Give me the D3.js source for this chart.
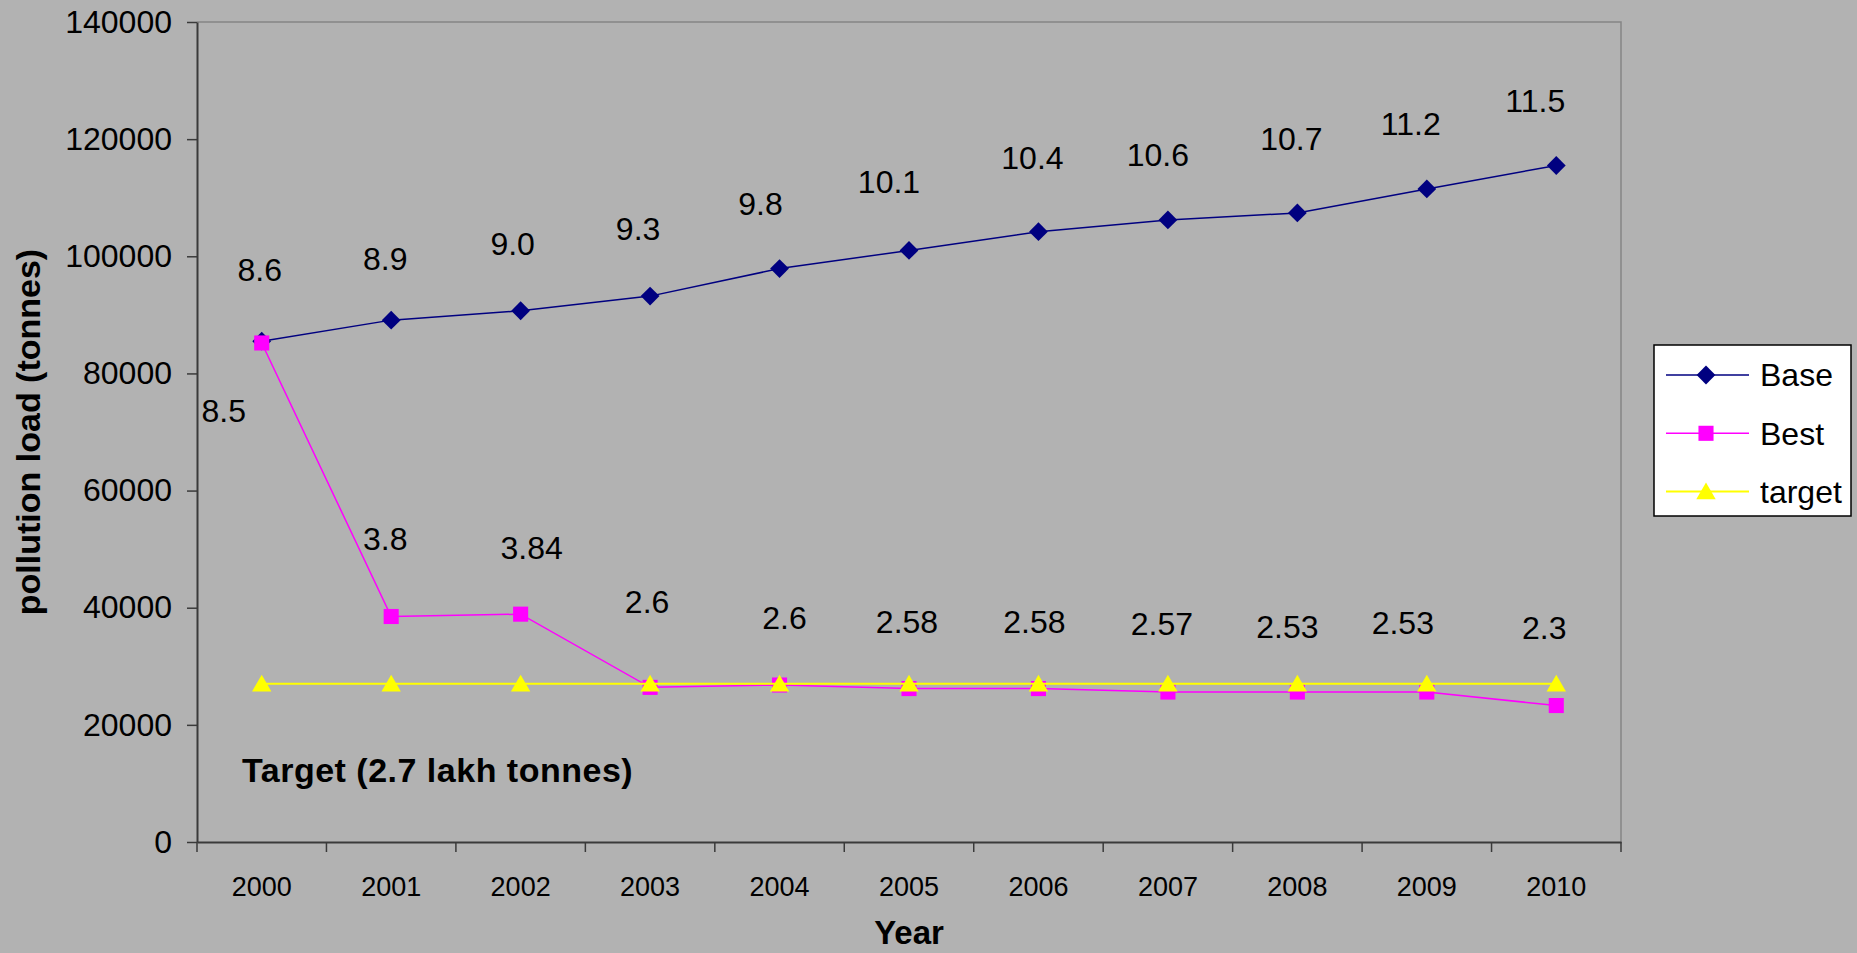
<!DOCTYPE html>
<html>
<head>
<meta charset="utf-8">
<script src="https://cdn.jsdelivr.net/npm/d3@7"></script>
<style>
  html, body { margin: 0; padding: 0; background: #b2b2b2; }
  svg { display: block; font-family: "Liberation Sans", Arial, sans-serif; }
</style>
</head>
<body>
<div id="chart"></div>
<script>
// ---- data ----
const years = ["2000", "2001", "2002", "2003", "2004", "2005", "2006", "2007", "2008", "2009", "2010"];
const baseValues = [85500, 89100, 90700, 93200, 97900, 101000, 104200, 106200, 107400, 111500, 115500];
const bestValues = [85200, 38500, 38900, 26400, 26800, 26200, 26200, 25600, 25600, 25600, 23300];
const targetValues = [27000, 27000, 27000, 27000, 27000, 27000, 27000, 27000, 27000, 27000, 27000];
const baseLabels = ["8.6", "8.9", "9.0", "9.3", "9.8", "10.1", "10.4", "10.6", "10.7", "11.2", "11.5"];
const bestLabels = ["8.5", "3.8", "3.84", "2.6", "2.6", "2.58", "2.58", "2.57", "2.53", "2.53", "2.3"];
const yTicks = [0, 20000, 40000, 60000, 80000, 100000, 120000, 140000];

// label nudges (px) relative to their point, as placed by hand in the original
const baseNudge = [[-2, -60], [-6, -50], [-8, -56], [-12, -56], [-19, -54], [-20, -57],
                   [-6, -63], [-10, -54], [-6, -63], [-16, -54], [-21, -54]];
const bestNudge = [[-38, 79], [-6, -67], [11, -55], [-3, -74], [5, -56], [-2, -56],
                   [-4, -56], [-6, -57], [-10, -54], [-24, -58], [-12, -67]];

const W = 1857, H = 953;
const plot = { left: 197, top: 22, right: 1621, bottom: 842 };

const svg = d3.select("#chart").append("svg")
    .attr("width", W)
    .attr("height", H);

svg.append("rect").attr("width", W).attr("height", H).attr("fill", "#b2b2b2");

const x = d3.scaleBand().domain(years).range([plot.left, plot.right]).padding(0);
const y = d3.scaleLinear().domain([0, 140000]).range([plot.bottom, plot.top]);
const cx = d => x(d) + x.bandwidth() / 2;

// plot frame: light top/right border
svg.append("path")
    .attr("d", `M${plot.left},${plot.top}H${plot.right}V${plot.bottom}`)
    .attr("fill", "none")
    .attr("stroke", "#858585")
    .attr("stroke-width", 1.5);

// ---- axes ----
const yAxis = svg.append("g")
    .attr("transform", `translate(${plot.left},0)`)
    .call(d3.axisLeft(y).tickValues(yTicks).tickFormat(d3.format("d")).tickSize(10).tickPadding(15).tickSizeOuter(0));
yAxis.select(".domain").attr("stroke", "#3a3a3a").attr("stroke-width", 2);
yAxis.selectAll(".tick line").attr("stroke", "#3a3a3a").attr("stroke-width", 1.5);
yAxis.selectAll("text").attr("font-size", 32).attr("fill", "#000")
    .attr("font-family", "'Liberation Sans', Arial, sans-serif");

const xAxis = svg.append("g")
    .attr("transform", `translate(0,${plot.bottom})`)
    .call(d3.axisBottom(x).tickSize(0).tickPadding(35).tickSizeOuter(0));
xAxis.select(".domain").attr("stroke", "#3a3a3a").attr("stroke-width", 2);
xAxis.selectAll("text").attr("font-size", 27).attr("fill", "#000")
    .attr("font-family", "'Liberation Sans', Arial, sans-serif");

// category boundary ticks
const bounds = years.map(d => x(d)).concat([x.range()[1]]);
xAxis.selectAll(".bound")
    .data(bounds)
    .join("line")
    .attr("class", "bound")
    .attr("x1", d => d).attr("x2", d => d)
    .attr("y1", 0).attr("y2", 10)
    .attr("stroke", "#3a3a3a")
    .attr("stroke-width", 1.5);

// axis titles
svg.append("text")
    .attr("transform", `translate(40,${(plot.top + plot.bottom) / 2}) rotate(-90)`)
    .attr("text-anchor", "middle")
    .attr("font-size", 34)
    .attr("font-weight", "bold")
    .text("pollution load (tonnes)");

svg.append("text")
    .attr("x", (plot.left + plot.right) / 2)
    .attr("y", 944)
    .attr("text-anchor", "middle")
    .attr("font-size", 33)
    .attr("font-weight", "bold")
    .text("Year");

// ---- series ----
const symbolPath = (type, size) => d3.symbol().type(type).size(size)();

const series = [
    { name: "Base", values: baseValues, color: "#000080", width: 1.5, symbol: d3.symbolDiamond2, size: 225, shift: 0 },
    { name: "Best", values: bestValues, color: "#ff00ff", width: 1.5, symbol: d3.symbolSquare2, size: 290, shift: 0 },
    { name: "target", values: targetValues, color: "#ffff00", width: 2, symbol: d3.symbolTriangle2, size: 270, shift: 2 }
];

const line = d3.line().x((d, i) => cx(years[i])).y(d => y(d));

series.forEach(s => {
    const g = svg.append("g");
    g.append("path")
        .datum(s.values)
        .attr("fill", "none")
        .attr("stroke", s.color)
        .attr("stroke-width", s.width)
        .attr("d", line);
    g.selectAll("path.mark")
        .data(s.values)
        .join("path")
        .attr("class", "mark")
        .attr("transform", (d, i) => `translate(${cx(years[i])},${y(d) + s.shift})`)
        .attr("d", symbolPath(s.symbol, s.size))
        .attr("fill", s.color);
});

// ---- data labels ----
function addLabels(values, labels, nudge) {
    svg.append("g")
        .selectAll("text")
        .data(values)
        .join("text")
        .attr("x", (d, i) => cx(years[i]) + nudge[i][0])
        .attr("y", (d, i) => y(d) + nudge[i][1])
        .attr("text-anchor", "middle")
        .attr("font-size", 32)
        .attr("fill", "#000")
        .text((d, i) => labels[i]);
}
addLabels(baseValues, baseLabels, baseNudge);
addLabels(bestValues, bestLabels, bestNudge);

// annotation
svg.append("text")
    .attr("x", 242)
    .attr("y", 782)
    .attr("font-size", 34)
    .attr("font-weight", "bold")
    .attr("letter-spacing", 0.5)
    .text("Target (2.7 lakh tonnes)");

// ---- legend ----
const legend = svg.append("g").attr("transform", "translate(1654,345)");
legend.append("rect")
    .attr("width", 197)
    .attr("height", 171)
    .attr("fill", "#fff")
    .attr("stroke", "#000")
    .attr("stroke-width", 1.5);

const item = legend.selectAll("g.item")
    .data(series)
    .join("g")
    .attr("class", "item")
    .attr("transform", (d, i) => `translate(0,${30 + i * 58.3})`);
item.append("line")
    .attr("x1", 12).attr("x2", 95)
    .attr("stroke", d => d.color)
    .attr("stroke-width", d => d.width);
item.append("path")
    .attr("transform", d => `translate(52,${d.shift})`)
    .attr("d", d => symbolPath(d.symbol, d.size))
    .attr("fill", d => d.color);
item.append("text")
    .attr("x", 106)
    .attr("dy", "0.35em")
    .attr("font-size", 32)
    .text(d => d.name);
</script>
</body>
</html>
